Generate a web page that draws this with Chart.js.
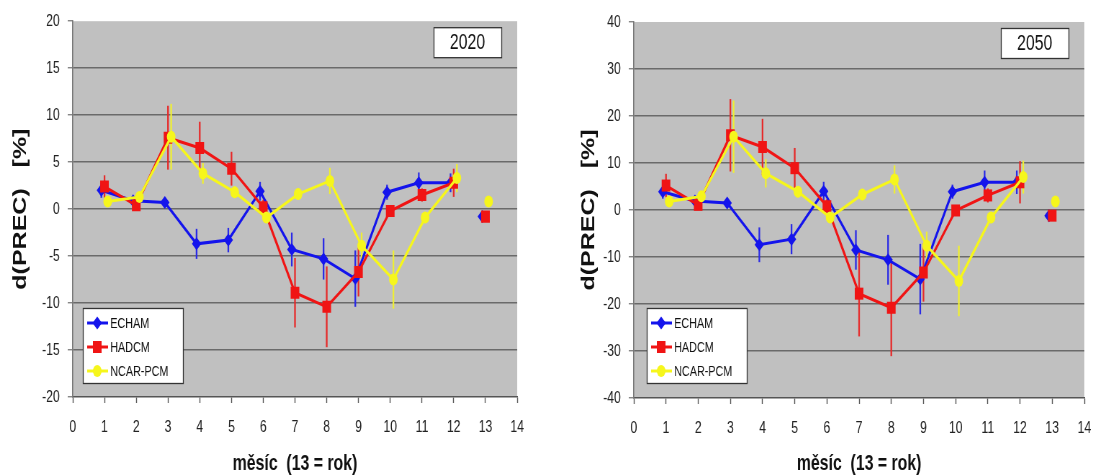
<!DOCTYPE html>
<html>
<head>
<meta charset="utf-8">
<script src="https://cdn.jsdelivr.net/npm/chart.js@4.4.1/dist/chart.umd.min.js"></script>
<style>
  html, body { margin: 0; padding: 0; background: #ffffff; }
  #wrap { position: relative; width: 1093px; height: 475px; overflow: hidden; }
  .pane { position: absolute; top: 0; height: 475px; }
  canvas { display: block; }
</style>
</head>
<body>
<div id="wrap">
  <div class="pane" style="left:0;width:546px;"><canvas id="c2020" width="758" height="475" style="width:546px;height:475px;"></canvas></div>
  <div class="pane" style="left:546px;width:547px;"><canvas id="c2050" width="760" height="475" style="width:547px;height:475px;"></canvas></div>
</div>
<script>
// ---- data ----
const months = [1, 2, 3, 4, 5, 6, 7, 8, 9, 10, 11, 12, 13];
const xTicks = [0, 1, 2, 3, 4, 5, 6, 7, 8, 9, 10, 11, 12, 13, 14];
const seriesNames = ['ECHAM', 'HADCM', 'NCAR-PCM'];

const echam2020    = [2.0, 0.9, 0.7, -3.7, -3.3, 1.9, -4.3, -5.3, -7.4, 1.8, 2.8, 2.8, -0.8];
const echam2020Err = [0.8, 0.5, 0.5, 1.6, 1.3, 1.0, 1.8, 2.2, 3.0, 0.8, 1.1, 1.0, 0];
const hadcm2020    = [2.4, 0.4, 7.6, 6.5, 4.3, 0.2, -8.9, -10.4, -6.7, -0.2, 1.5, 2.8, -0.8];
const hadcm2020Err = [1.2, 0.5, 3.4, 2.8, 1.8, 0.8, 3.7, 4.3, 2.6, 0.5, 0.7, 1.5, 0];
const ncar2020     = [0.8, 1.3, 7.7, 3.8, 1.8, -0.9, 1.6, 3.0, -3.9, -7.5, -0.9, 3.3, 0.8];
const ncar2020Err  = [0.5, 0.5, 3.5, 1.1, 0.6, 0.6, 0.6, 1.4, 1.4, 3.1, 0.6, 1.5, 0];

const echam2050    = [3.9, 1.9, 1.5, -7.4, -6.2, 4.0, -8.5, -10.6, -14.7, 3.9, 5.9, 5.9, -1.2];
const echam2050Err = [1.5, 1.0, 1.0, 3.7, 3.2, 2.0, 4.2, 5.3, 7.5, 1.5, 2.5, 2.5, 0];
const hadcm2050    = [5.2, 1.1, 15.9, 13.4, 8.9, 0.8, -17.8, -20.8, -13.3, -0.1, 3.1, 5.9, -1.2];
const hadcm2050Err = [2.5, 1.0, 7.7, 6.0, 4.3, 1.5, 9.1, 10.3, 6.2, 1.0, 1.5, 4.5, 0];
const ncar2050     = [1.8, 2.9, 15.6, 7.8, 3.9, -1.6, 3.3, 6.5, -7.6, -15.1, -1.6, 7.0, 1.8];
const ncar2050Err  = [1.0, 1.0, 7.7, 3.0, 1.2, 1.2, 1.2, 3.0, 3.0, 7.5, 1.2, 3.5, 0];

const yTicks2020 = [-20, -15, -10, -5, 0, 5, 10, 15, 20];
const yTicks2050 = [-40, -30, -20, -10, 0, 10, 20, 30, 40];

const xTitle = 'měsíc  (13 = rok)';
const yTitle = 'd(PREC)   [%]';

// ---- styles ----
const FONT = "'Liberation Sans', Arial, sans-serif";
const colors = ['#1414ec', '#f01414', '#f6f61c'];
const errColors = ['#2a2ae6', '#e62a2a', '#eeee34'];
const shapes = ['rectRot', 'rect', 'circle'];
const radii = [6.5, 8.5, 6];
const xOffsets = [-0.1, 0, 0.1];

function toPoints(vals, off) {
  return months.map((m, i) => ({ x: m + off, y: vals[i] }));
}

const bgPlugin = {
  id: 'plotBg',
  beforeDraw(chart) {
    const { ctx, chartArea: a } = chart;
    ctx.save();
    ctx.fillStyle = '#c0c0c0';
    ctx.fillRect(a.left, a.top, a.right - a.left, a.bottom - a.top);
    ctx.restore();
  }
};

const errPlugin = {
  id: 'errBars',
  beforeDatasetsDraw(chart) {
    const { ctx } = chart;
    const ys = chart.scales.y;
    ctx.save();
    chart.data.datasets.forEach((ds, di) => {
      if (!ds.errors) return;
      const meta = chart.getDatasetMeta(di);
      ctx.strokeStyle = ds.errColor;
      ctx.lineWidth = 2.3;
      meta.data.forEach((pt, i) => {
        const e = ds.errors[i];
        if (!e) return;
        const v = ds.data[i].y;
        ctx.beginPath();
        ctx.moveTo(pt.x, ys.getPixelForValue(v + e));
        ctx.lineTo(pt.x, ys.getPixelForValue(v - e));
        ctx.stroke();
      });
    });
    ctx.restore();
  }
};

function drawMarker(ctx, shape, x, y, r) {
  ctx.beginPath();
  if (shape === 'rectRot') {
    ctx.moveTo(x, y - r); ctx.lineTo(x + r, y); ctx.lineTo(x, y + r); ctx.lineTo(x - r, y); ctx.closePath();
  } else if (shape === 'rect') {
    const s = r * Math.SQRT1_2;
    ctx.rect(x - s, y - s, 2 * s, 2 * s);
  } else {
    ctx.arc(x, y, r, 0, Math.PI * 2);
  }
  ctx.fill();
}

const legendTitlePlugin = {
  id: 'legendTitle',
  afterDraw(chart, args, opts) {
    const { ctx, chartArea: a } = chart;
    ctx.save();
    // legend box
    const lx = a.left + opts.legendDx, lw = 139, lh = 75;
    const ly = a.bottom - opts.legendDy - lh;
    ctx.fillStyle = '#ffffff';
    ctx.fillRect(lx, ly, lw, lh);
    ctx.strokeStyle = '#333333';
    ctx.lineWidth = 1.3;
    ctx.strokeRect(lx + 0.5, ly + 0.5, lw, lh);
    ctx.font = '15px ' + FONT;
    ctx.textBaseline = 'middle';
    ctx.textAlign = 'left';
    chart.data.datasets.forEach((ds, i) => {
      const ry = ly + 15 + i * 24;
      ctx.strokeStyle = ds.borderColor;
      ctx.lineWidth = 3;
      ctx.beginPath();
      ctx.moveTo(lx + 6, ry); ctx.lineTo(lx + 35, ry); ctx.stroke();
      ctx.fillStyle = ds.borderColor;
      drawMarker(ctx, shapes[i], lx + 20, ry, radii[i]);
      ctx.fillStyle = '#111111';
      ctx.fillText(ds.label, lx + 38, ry + 1);
    });
    // year box
    const bw = 94, bh = 30;
    const bx = a.right - opts.boxDx - bw, by = a.top + opts.boxDy;
    ctx.fillStyle = '#ffffff';
    ctx.fillRect(bx, by, bw, bh);
    ctx.strokeStyle = '#333333';
    ctx.lineWidth = 1.3;
    ctx.strokeRect(bx + 0.5, by + 0.5, bw, bh);
    ctx.fillStyle = '#111111';
    ctx.font = '22px ' + FONT;
    ctx.textAlign = 'center';
    ctx.fillText(opts.year, bx + bw / 2, by + bh / 2 + 1);
    ctx.restore();
  }
};

function makeChart(id, cfg) {
  const series = [
    [cfg.echam, cfg.echamErr],
    [cfg.hadcm, cfg.hadcmErr],
    [cfg.ncar, cfg.ncarErr]
  ];
  const datasets = series.map((s, i) => ({
    label: seriesNames[i],
    data: toPoints(s[0], xOffsets[i]),
    errors: s[1],
    errColor: errColors[i],
    borderColor: colors[i],
    backgroundColor: colors[i],
    pointBackgroundColor: colors[i],
    pointBorderColor: colors[i],
    pointBorderWidth: 0,
    pointStyle: shapes[i],
    pointRadius: radii[i],
    borderWidth: 3,
    tension: 0,
    order: 3 - i,
    segment: {
      borderColor: ctx => (ctx.p1DataIndex === months.length - 1 ? 'rgba(0,0,0,0)' : undefined)
    }
  }));
  const yMin = cfg.yTicks[0], yMax = cfg.yTicks[cfg.yTicks.length - 1];
  return new Chart(document.getElementById(id), {
    type: 'line',
    data: { datasets },
    plugins: [bgPlugin, errPlugin, legendTitlePlugin],
    options: {
      responsive: false,
      devicePixelRatio: 1,
      animation: false,
      events: [],
      layout: { padding: cfg.padding },
      plugins: {
        legend: { display: false },
        tooltip: { enabled: false },
        legendTitle: { year: cfg.year, legendDx: cfg.legendDx, legendDy: cfg.legendDy, boxDx: cfg.boxDx, boxDy: cfg.boxDy }
      },
      scales: {
        x: {
          type: 'linear',
          min: xTicks[0],
          max: xTicks[xTicks.length - 1],
          afterBuildTicks: s => { s.ticks = xTicks.map(v => ({ value: v })); },
          afterFit: s => { s.height = cfg.xAxisH; s.paddingLeft = 0; s.paddingRight = 0; },
          grid: { drawOnChartArea: false, drawTicks: true, tickLength: 6, tickColor: '#555555', tickWidth: 1.4 },
          border: { display: true, color: '#555555', width: 1.5 },
          ticks: { color: '#222222', font: { family: FONT, size: 17 }, padding: 14, maxRotation: 0, autoSkip: false },
          title: { display: true, text: xTitle, color: '#111111', font: { family: FONT, size: 22, weight: 'bold', lineHeight: 1 }, padding: { top: 0, bottom: 0 } }
        },
        y: {
          type: 'linear',
          min: yMin,
          max: yMax,
          afterBuildTicks: s => { s.ticks = cfg.yTicks.map(v => ({ value: v })); },
          afterFit: s => { s.width = cfg.yAxisW; },
          grid: {
            color: c => (c.tick && (c.tick.value === yMax || c.tick.value === yMin) ? 'rgba(0,0,0,0)' : '#6a6a6a'),
            lineWidth: 1.6,
            tickLength: 7,
            tickColor: '#555555',
            tickWidth: 1
          },
          border: { display: true, color: '#777777', width: 1.6 },
          ticks: { color: '#222222', font: { family: FONT, size: 17 }, padding: 11, autoSkip: false },
          title: { display: true, text: yTitle, color: '#111111', font: { family: FONT, size: 25, weight: 'bold', lineHeight: 1.2 }, padding: { top: cfg.yTitlePad, bottom: 0 } }
        }
      }
    }
  });
}

makeChart('c2020', {
  year: '2020',
  echam: echam2020, echamErr: echam2020Err,
  hadcm: hadcm2020, hadcmErr: hadcm2020Err,
  ncar: ncar2020, ncarErr: ncar2020Err,
  yTicks: yTicks2020,
  padding: { top: 20, right: 40, bottom: 0, left: 0 },
  yAxisW: 101, xAxisH: 78, yTitlePad: 14,
  legendDx: 14, legendDy: 14, boxDx: 22, boxDy: 6
});

makeChart('c2050', {
  year: '2050',
  echam: echam2050, echamErr: echam2050Err,
  hadcm: hadcm2050, hadcmErr: hadcm2050Err,
  ncar: ncar2050, ncarErr: ncar2050Err,
  yTicks: yTicks2050,
  padding: { top: 22, right: 12, bottom: 0, left: 0 },
  yAxisW: 122, xAxisH: 77, yTitlePad: 45,
  legendDx: 18, legendDy: 15, boxDx: 22, boxDy: 6
});
</script>
</body>
</html>
